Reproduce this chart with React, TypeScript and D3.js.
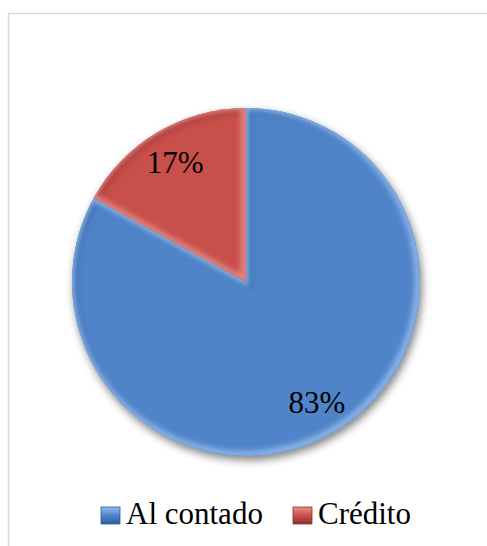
import React from "react";
import * as d3 from "d3";

const categories = ["Al contado", "Crédito"];
const values = [83, 17];
const labels = ["83%", "17%"];
const colors = ["#4F84C9", "#C9504C"];
const lightColors = ["#94BAEC", "#E88E8A"];
const darkColors = ["#2F5E9C", "#8E2E2B"];

const W = 487;
const H = 546;
const cx = 246;
const cy = 282;
const R = 174;
const FONT = '"Liberation Serif", "Times New Roman", serif';

export default function App() {
  const pie = d3.pie<number>().sort(null).value((d) => d)(values);
  const arc = d3.arc<d3.PieArcDatum<number>>().innerRadius(0).outerRadius(R);
  const labelArc = d3.arc<d3.PieArcDatum<number>>().innerRadius(R * 0.8).outerRadius(R * 0.8);

  return (
    <svg width={W} height={H} style={{ position: "absolute", left: 0, top: 0, display: "block", fontFamily: FONT }}>
      <defs>
        <filter id="shadow" x="-20%" y="-20%" width="140%" height="140%">
          <feGaussianBlur in="SourceAlpha" stdDeviation="4" />
          <feOffset dx="2" dy="4" result="b" />
          <feComponentTransfer>
            <feFuncA type="linear" slope="0.5" />
          </feComponentTransfer>
          <feMerge>
            <feMergeNode />
            <feMergeNode in="SourceGraphic" />
          </feMerge>
        </filter>
        <filter id="blur3">
          <feGaussianBlur stdDeviation="2.5" />
        </filter>
        {pie.map((p, i) => (
          <clipPath id={`clip${i}`} key={i}>
            <path d={arc(p) || ""} transform={`translate(${cx},${cy})`} />
          </clipPath>
        ))}
        {colors.map((c, i) => (
          <linearGradient id={`lg${i}`} key={i} x1="0" y1="0" x2="0" y2="1">
            <stop offset="0" stopColor={lightColors[i]} />
            <stop offset="0.5" stopColor={c} />
            <stop offset="1" stopColor={darkColors[i]} />
          </linearGradient>
        ))}
      </defs>
      <rect x={8.5} y={13.5} width={W} height={H} fill="#fff" stroke="#D9D9D9" strokeWidth={1.5} />
      <g filter="url(#shadow)">
        {pie.map((p, i) => (
          <path key={i} d={arc(p) || ""} transform={`translate(${cx},${cy})`} fill={colors[i]} />
        ))}
      </g>
      {pie.map((p, i) => (
        <g key={`b${i}`} clipPath={`url(#clip${i})`}>
          <path
            d={arc(p) || ""}
            transform={`translate(${cx + 2},${cy + 2})`}
            fill="none"
            stroke={darkColors[i]}
            strokeOpacity={0.6}
            strokeWidth={7}
            filter="url(#blur3)"
          />
          <path
            d={arc(p) || ""}
            transform={`translate(${cx - 1.5},${cy - 1.5})`}
            fill="none"
            stroke={lightColors[i]}
            strokeOpacity={0.85}
            strokeWidth={8}
            filter="url(#blur3)"
          />
        </g>
      ))}
      {pie.map((p, i) => {
        const [x, y] = labelArc.centroid(p);
        return (
          <text
            key={`t${i}`}
            x={cx + x}
            y={cy + y + 11}
            textAnchor="middle"
            fontSize={31}
            fill="#000"
            style={{ fontFamily: FONT }}
          >
            {labels[i]}
          </text>
        );
      })}
      {categories.map((c, i) => {
        const lx = i === 0 ? 101 : 293;
        return (
          <g key={c}>
            <rect x={lx} y={507} width={19} height={17} fill={`url(#lg${i})`} stroke={darkColors[i]} strokeWidth={0.8} />
            <text x={lx + 25} y={524} fontSize={31} fill="#000" style={{ fontFamily: FONT }}>
              {c}
            </text>
          </g>
        );
      })}
    </svg>
  );
}
